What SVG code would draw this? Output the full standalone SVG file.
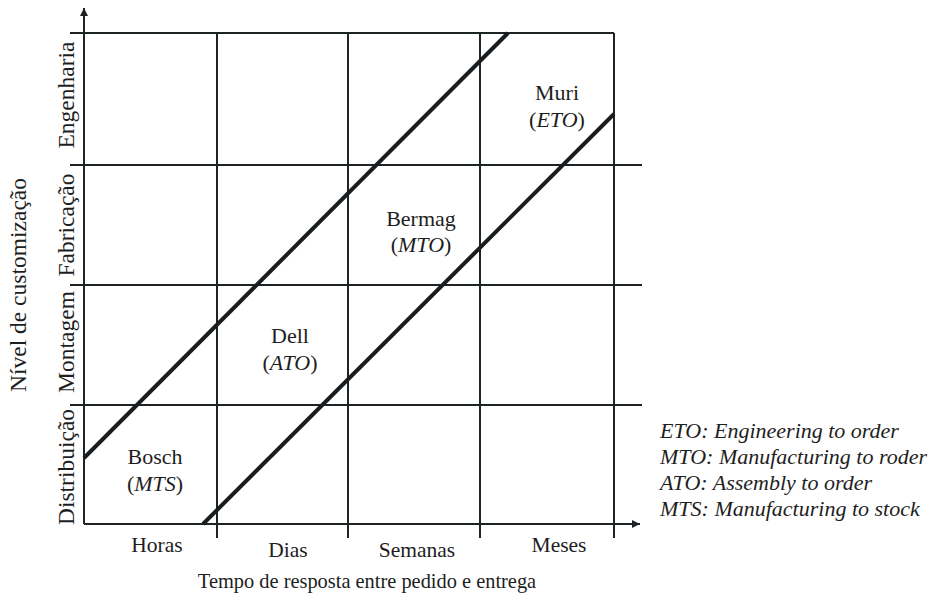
<svg xmlns="http://www.w3.org/2000/svg" width="934" height="602" viewBox="0 0 934 602">
  <style>
    .grid { stroke: #1e2326; stroke-width: 2; fill: none; }
    .diag { stroke: #1a1d1f; stroke-width: 4; fill: none; }
    .t { font-family: "Liberation Serif", "Times New Roman", serif; font-size: 21.5px; fill: #1e1e1e; }
    .n { font-size: 22px; }
    .y { font-size: 23.5px; }
    .lg { font-size: 22px; }
    .m { text-anchor: middle; }
    .i { font-style: italic; }
  </style>
  <defs>
    <marker id="arr" markerWidth="10" markerHeight="10" refX="8" refY="4" orient="auto" markerUnits="userSpaceOnUse">
      <path d="M0,0 L8,4 L0,8 Z" fill="#1e2326"/>
    </marker>
  </defs>
  <rect width="934" height="602" fill="#ffffff"/>
  <g id="connectors">
    <line class="grid" x1="84" y1="524" x2="84" y2="8" marker-end="url(#arr)"/>
    <line class="grid" x1="84" y1="524" x2="640" y2="524" marker-end="url(#arr)"/>
    <line class="grid" x1="70" y1="33" x2="614" y2="33"/>
    <line class="grid" x1="70" y1="165" x2="642" y2="165"/>
    <line class="grid" x1="70" y1="285" x2="642" y2="285"/>
    <line class="grid" x1="70" y1="405" x2="642" y2="405"/>
    <line class="grid" x1="217" y1="33" x2="217" y2="538"/>
    <line class="grid" x1="348" y1="33" x2="348" y2="538"/>
    <line class="grid" x1="480" y1="33" x2="480" y2="538"/>
    <line class="grid" x1="614" y1="33" x2="614" y2="538"/>
    <line class="diag" x1="84" y1="458" x2="508" y2="33"/>
    <line class="diag" x1="203" y1="524" x2="614" y2="114"/>
  </g>
  <g id="node-bosch">
    <text class="t n m" x="155" y="464">Bosch</text>
    <text class="t n m" x="155" y="491">(<tspan class="i">MTS</tspan>)</text>
  </g>
  <g id="node-dell">
    <text class="t n m" x="290" y="343">Dell</text>
    <text class="t n m" x="290" y="370">(<tspan class="i">ATO</tspan>)</text>
  </g>
  <g id="node-bermag">
    <text class="t n m" x="421" y="226">Bermag</text>
    <text class="t n m" x="421" y="252">(<tspan class="i">MTO</tspan>)</text>
  </g>
  <g id="node-muri">
    <text class="t n m" x="557" y="100">Muri</text>
    <text class="t n m" x="557" y="127">(<tspan class="i">ETO</tspan>)</text>
  </g>
  <g id="x-labels">
    <text class="t m" x="157" y="552">Horas</text>
    <text class="t m" x="288" y="557">Dias</text>
    <text class="t m" x="417" y="557">Semanas</text>
    <text class="t m" x="559" y="552">Meses</text>
    <text class="t m" x="367" y="588" style="font-size:20.4px">Tempo de resposta entre pedido e entrega</text>
  </g>
  <g id="y-labels">
    <text class="t y m" transform="translate(74,95) rotate(-90)">Engenharia</text>
    <text class="t y m" transform="translate(74,225) rotate(-90)">Fabricação</text>
    <text class="t y m" transform="translate(74,342) rotate(-90)">Montagem</text>
    <text class="t y m" transform="translate(74,467) rotate(-90)">Distribuição</text>
    <text class="t y m" transform="translate(26,285) rotate(-90)">Nível de customização</text>
  </g>
  <g id="legend">
    <text class="t lg i" x="660" y="438">ETO: Engineering to order</text>
    <text class="t lg i" x="660" y="464">MTO: Manufacturing to roder</text>
    <text class="t lg i" x="660" y="490">ATO: Assembly to order</text>
    <text class="t lg i" x="660" y="516">MTS: Manufacturing to stock</text>
  </g>
</svg>
